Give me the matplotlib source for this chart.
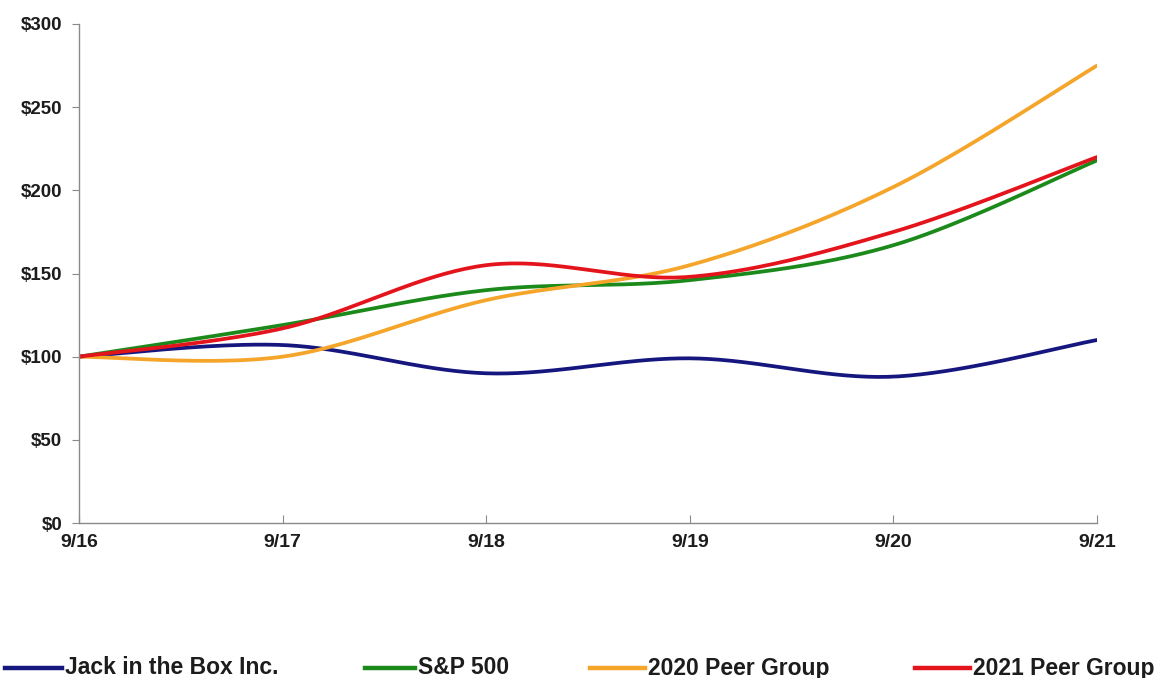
import numpy as np
import matplotlib
matplotlib.use("Agg")
import matplotlib.pyplot as plt
from matplotlib.lines import Line2D

categories = ["9/16", "9/17", "9/18", "9/19", "9/20", "9/21"]
jack = [100, 107, 90, 99, 88, 110]
sp500 = [100, 119, 140, 146, 167, 218]
peer2020 = [100, 100, 134, 155, 202, 275]
peer2021 = [100, 117, 155, 148, 175, 220]
series_names = ["Jack in the Box Inc.", "S&P 500", "2020 Peer Group", "2021 Peer Group"]
yticks = [0, 50, 100, 150, 200, 250, 300]

colors = ["#16167f", "#1b8a1b", "#f4a52a", "#e3141c"]
plt.rcParams['font.family'] = ['Liberation Sans', 'DejaVu Sans']
TXT = '#1c1c1c'


def smooth(xs, ys, n=40):
    # Excel-style smoothed line (Catmull-Rom Bezier segments) through data points
    xs = np.asarray(xs, float)
    ys = np.asarray(ys, float)
    P = np.column_stack([xs, ys])
    P = np.vstack([P[0], P, P[-1]])
    out = []
    t = np.linspace(0, 1, n)[:, None]
    for i in range(1, len(P) - 2):
        p0, p1, p2, p3 = P[i - 1], P[i], P[i + 1], P[i + 2]
        c1 = p1 + (p2 - p0) / 6.0
        c2 = p2 - (p3 - p1) / 6.0
        seg = ((1 - t) ** 3) * p1 + 3 * ((1 - t) ** 2) * t * c1 + 3 * (1 - t) * t ** 2 * c2 + t ** 3 * p2
        out.append(seg if i == 1 else seg[1:])
    out = np.vstack(out)
    return out[:, 0], out[:, 1]


fig = plt.figure(figsize=(11.59, 6.78), dpi=100)
ax = fig.add_axes([79 / 1159, 1 - 523 / 678, (1097 - 79) / 1159, (523 - 24) / 678])

x = np.arange(len(categories))
for vals, c in zip([jack, sp500, peer2020, peer2021], colors):
    sx, sy = smooth(x, vals)
    ax.plot(sx, sy, color=c, lw=2.7, solid_capstyle='round')

ax.set_xlim(0, len(categories) - 1)
ax.set_ylim(0, 300)
ax.set_yticks(yticks)
ax.set_yticklabels([f"${v}" for v in yticks], fontsize=13.5, fontweight='bold', color=TXT)
ax.set_xticks(x)
ax.set_xticklabels(categories, fontsize=14, fontweight='bold', color=TXT)
for s in ['top', 'right']:
    ax.spines[s].set_visible(False)
for s in ['left', 'bottom']:
    ax.spines[s].set_color('#8a8a8a')
    ax.spines[s].set_linewidth(1.0)
ax.tick_params(axis='y', direction='out', length=5, color='#8a8a8a', pad=7)
ax.tick_params(axis='x', direction='in', length=6, color='#8a8a8a', pad=8)

# legend at bottom
leg_y = 1 - 668 / 678
line_x = [(5, 62), (365, 415), (590, 645), (915, 970)]
for (x0, x1), c, name in zip(line_x, colors, series_names):
    fig.add_artist(Line2D([x0 / 1159, x1 / 1159], [leg_y, leg_y], color=c, lw=3.2,
                          transform=fig.transFigure))
    fig.text((x1 + 3) / 1159, leg_y, name, fontsize=16.5, fontweight='bold',
             color=TXT, va='center', ha='left')

fig.savefig("out.png", dpi=100, facecolor='white')
